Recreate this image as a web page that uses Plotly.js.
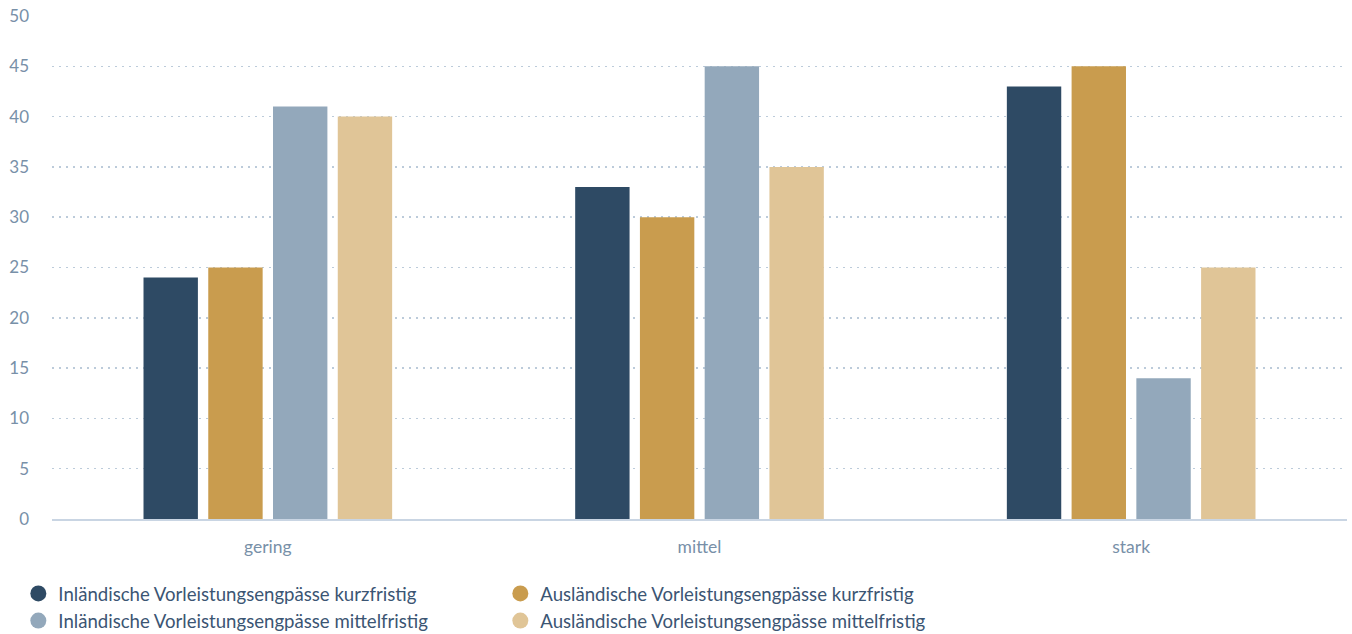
<!DOCTYPE html>
<html>
<head>
<meta charset="utf-8">
<script src="https://cdn.plot.ly/plotly-3.0.1.min.js"></script>
<style>html,body{margin:0;padding:0;background:#fff;}#chart{width:1352px;height:634px;}</style>
</head>
<body>
<div id="chart"></div>
<script>
var categories = ["gering", "mittel", "stark"];
var seriesNames = [
  "Inländische Vorleistungsengpässe kurzfristig",
  "Ausländische Vorleistungsengpässe kurzfristig",
  "Inländische Vorleistungsengpässe mittelfristig",
  "Ausländische Vorleistungsengpässe mittelfristig"
];
var inlKurz = [24, 33, 43];
var ausKurz = [25, 30, 45];
var inlMittel = [41, 45, 14];
var ausMittel = [40, 35, 25];
var yTicks = [0, 5, 10, 15, 20, 25, 30, 35, 40, 45, 50];
var colors = ["#2e4a64", "#c99c4e", "#93a8bb", "#e0c597"];

var values = [inlKurz, ausKurz, inlMittel, ausMittel];
var traces = [];
values.forEach(function (v, i) {
  traces.push({
    type: "bar", x: categories, y: v, name: seriesNames[i],
    marker: {color: colors[i]}, showlegend: false, hoverinfo: "y"
  });
});
// legend entries with round symbols
values.forEach(function (v, i) {
  traces.push({
    type: "scatter", mode: "markers", x: [null], y: [null], name: seriesNames[i],
    marker: {color: colors[i], size: 20, symbol: "circle"}, showlegend: true, hoverinfo: "skip"
  });
});

var layout = {
  width: 1352, height: 634,
  margin: {l: 52, r: 5, t: 16, b: 115, autoexpand: false},
  paper_bgcolor: "#fff", plot_bgcolor: "#fff",
  font: {family: "Lato, 'Noto Sans', sans-serif", color: "#7890a8", size: 17},
  barmode: "group", bargap: 0.40, bargroupgap: 0.16,
  xaxis: {
    type: "category", showgrid: false, zeroline: false,
    showline: true, linecolor: "#c9d5e3", linewidth: 2,
    ticks: "", ticklabelstandoff: 11,
    tickfont: {size: 17.5, color: "#7890a8"}
  },
  yaxis: {
    range: [0, 50], tickvals: yTicks, ticktext: yTicks.map(String),
    showgrid: true, gridcolor: "#bccbda", gridwidth: 1.5, griddash: "2px,5px",
    zeroline: false, showline: false, ticks: "",
    ticklabelstandoff: 22,
    tickfont: {size: 17, color: "#7890a8"}
  },
  legend: {
    orientation: "h", x: -0.026, xanchor: "left", y: -0.111, yanchor: "top",
    entrywidth: 437, entrywidthmode: "pixels",
    font: {size: 18.6, color: "#3b5573"},
    tracegroupgap: 0, itemwidth: 30
  },
  showlegend: true
};

Plotly.newPlot("chart", traces, layout, {displayModeBar: false, staticPlot: true});
</script>
</body>
</html>
